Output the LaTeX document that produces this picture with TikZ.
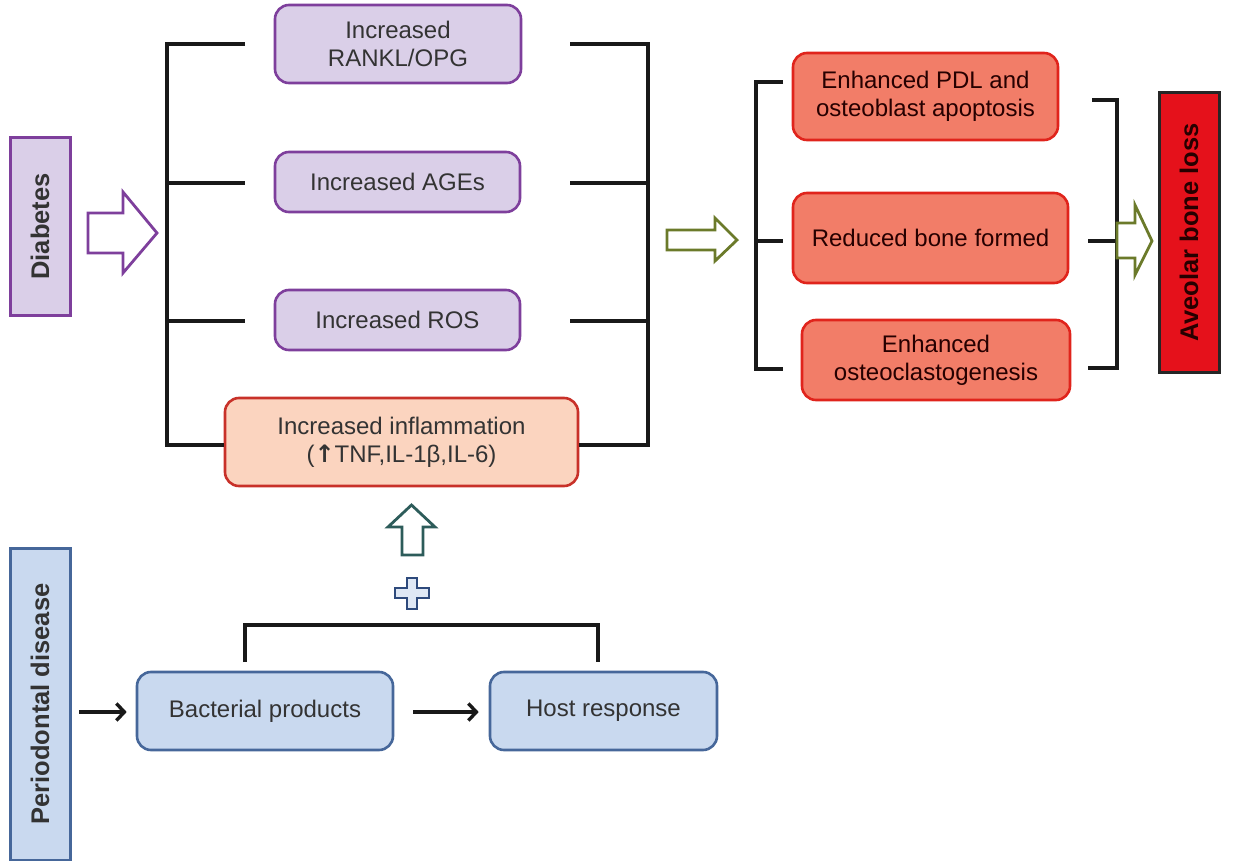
\documentclass[tikz,border=0pt]{standalone}
\usepackage{fontspec}
\setmainfont{Liberation Sans}
\newfontfamily\symfont{DejaVu Sans}
\usetikzlibrary{arrows.meta}
\begin{document}
\begin{tikzpicture}[x=1pt,y=-1pt,
  txt/.style={text=black!80, font=\fontsize{24}{28}\selectfont, align=center},
  rot/.style={font=\bfseries\fontsize{25.5}{29}\selectfont, rotate=90},
  purplebox/.style={txt, draw=purpleB, fill=purpleF, line width=2.6pt, rounded corners=14pt, inner sep=0pt},
  peachbox/.style={txt, draw=peachB, fill=peachF, line width=2.6pt, rounded corners=14pt, inner sep=0pt},
  redbox/.style={txt, text=black!85!red, draw=redB, fill=redF, line width=2.6pt, rounded corners=14pt, inner sep=0pt},
  bluebox/.style={txt, draw=blueB, fill=blueF, line width=2.6pt, rounded corners=14pt, inner sep=0pt},
  brk/.style={line width=3.4pt, black!90},
  hollow/.style={line width=2.8pt, fill=white},
  blk/.style={line width=3.4pt, black!90, -{Straight Barb[length=8pt,width=17pt,line width=3.4pt]}},
]
\useasboundingbox (0,0) rectangle (1235,861);
\definecolor{purpleB}{HTML}{7E3F9C}
\definecolor{purpleF}{HTML}{DACFE8}
\definecolor{peachB}{HTML}{C83129}
\definecolor{peachF}{HTML}{FBD4BF}
\definecolor{redB}{HTML}{E0241C}
\definecolor{redF}{HTML}{F27D68}
\definecolor{alvF}{HTML}{E5111B}
\definecolor{blueB}{HTML}{46679A}
\definecolor{blueF}{HTML}{C9D9EF}
\definecolor{oliveA}{HTML}{6B7A2A}
\definecolor{tealA}{HTML}{2D5C5A}
\definecolor{plusB}{HTML}{2E4A7C}

% side labels
\node[draw=purpleB, fill=purpleF, line width=3pt, minimum width=60, minimum height=177, inner sep=0pt] (diab) at (40,226.5) {};
\node[rot, text=black!80] at (diab.center) {Diabetes};
\node[draw=blueB, fill=blueF, line width=3pt, minimum width=60, minimum height=312, inner sep=0pt] (perio) at (40,704) {};
\node[rot, text=black!80] at (perio.center) {Periodontal disease};
\node[draw=black!85, fill=alvF, line width=3pt, minimum width=60, minimum height=279, inner sep=0pt] (alv) at (1189,232.5) {};
\node[rot, text=black!85!red] at (alv.center) {Aveolar bone loss};

% purple boxes
\node[purplebox, minimum width=246, minimum height=78] (rankl) at (398,44) {Increased\\RANKL/OPG};
\node[purplebox, minimum width=245, minimum height=60] (ages) at (397.5,182) {Increased AGEs};
\node[purplebox, minimum width=245, minimum height=60] (ros) at (397.5,320) {Increased ROS};
\node[peachbox, minimum width=353, minimum height=88] (infl) at (401.5,442) {Increased inflammation\\({\symfont\bfseries ↑}TNF,IL-1β,IL-6)};

% red boxes
\node[redbox, minimum width=265, minimum height=87] (pdl) at (925.5,96.5) {Enhanced PDL and\\osteoblast apoptosis};
\node[redbox, minimum width=275, minimum height=90] (rbf) at (930.5,238) {Reduced bone formed};
\node[redbox, minimum width=268, minimum height=80] (ocl) at (936,360) {Enhanced\\osteoclastogenesis};

% blue boxes
\node[bluebox, minimum width=256, minimum height=78] (bact) at (265,711) {Bacterial products};
\node[bluebox, minimum width=227, minimum height=78] (host) at (603.5,711) {Host response};

% left bracket
\coordinate (lb1) at (167,44);
\coordinate (lb4) at (167,445);
\draw[brk] (245,44) -- (lb1) -- (lb4) -- (infl.west |- lb4);
\draw[brk] (167,183) -- (245,183);
\draw[brk] (167,321) -- (245,321);

% right bracket of middle column
\coordinate (rb1) at (648,44);
\coordinate (rb4) at (648,445);
\draw[brk] (570,44) -- (rb1) -- (rb4) -- (infl.east |- rb4);
\draw[brk] (570,183) -- (648,183);
\draw[brk] (570,321) -- (648,321);

% bracket before red boxes
\draw[brk] (783,82) -- (756,82) -- (756,369) -- (783,369);
\draw[brk] (756,241) -- (783,241);

% bracket after red boxes
\draw[brk] (1092,100) -- (1117,100) -- (1117,368) -- (1088,368);
\draw[brk] (1088,241) -- (1117,241);

% bracket above blue boxes
\coordinate (bl) at (245,662);
\coordinate (br) at (598,662);
\draw[brk] (bl) -- (245,625) -- (598,625) -- (br);

% hollow arrows
\draw[hollow, draw=purpleB] (88,213) -- (123,213) -- (123,192) -- (157,233) -- (123,273) -- (123,253) -- (88,253) -- cycle;
\draw[hollow, draw=oliveA] (667,230) -- (715,230) -- (715,218) -- (737,240) -- (715,261) -- (715,250) -- (667,250) -- cycle;
\draw[hollow, draw=oliveA] (1117,223) -- (1135,223) -- (1135,205) -- (1152,241) -- (1135,275) -- (1135,258) -- (1117,258) -- cycle;
\draw[hollow, draw=tealA] (402,555) -- (402,527) -- (388,527) -- (411.5,505) -- (435,527) -- (423,527) -- (423,555) -- cycle;
% plus sign
\draw[line width=2.8pt, draw=plusB, fill=blueF!60] (407,578) -- (417,578) -- (417,588) -- (429,588) -- (429,598) -- (417,598) -- (417,609) -- (407,609) -- (407,598) -- (395,598) -- (395,588) -- (407,588) -- cycle;

% black arrows
\coordinate (pa) at (79,712);
\draw[blk] (pa) -- ([xshift=-9pt]bact.west |- pa);
\draw[blk] ([xshift=19pt]bact.east |- pa) -- ([xshift=-10pt]host.west |- pa);
\end{tikzpicture}
\end{document}
